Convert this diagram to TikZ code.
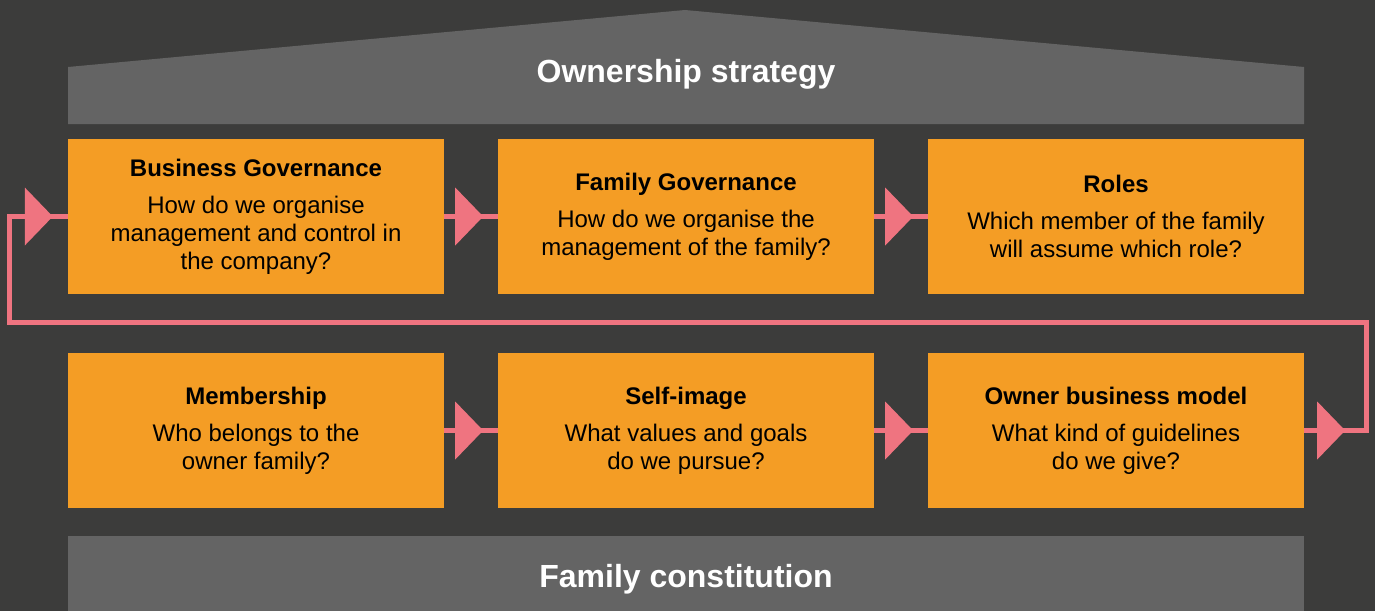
\documentclass[tikz,border=0pt]{standalone}
\usepackage{fontspec}
\setmainfont{Liberation Sans}
\usetikzlibrary{arrows.meta,decorations.markings}
\definecolor{darkbg}{HTML}{3C3C3B}
\definecolor{roofgray}{HTML}{646464}
\definecolor{boxorange}{HTML}{F49D25}
\definecolor{flowpink}{HTML}{EF7480}
\newcommand{\flowtip}{\arrow{Triangle[length=28pt,width=58pt,line width=0pt]}}

\begin{document}
\begin{tikzpicture}[x=1pt,y=-1pt,
    box/.style={fill=boxorange,minimum width=376pt,minimum height=155pt,inner sep=0pt,
      align=center,font=\fontsize{24}{28}\selectfont},
    band/.style={text=white,anchor=base,font=\fontsize{32}{36}\selectfont\bfseries},
    flow/.style={draw=flowpink,line width=5pt,postaction={decorate}}]
  \fill[darkbg] (0,0) rectangle (1375,611);
  % roof and base
  \fill[roofgray] (68,67) -- (685,10) -- (1304,67) -- (1304,124) -- (68,124) -- cycle;
  \fill[roofgray] (68,536) rectangle (1304,611);
  \node[band] (own) at (686,82) {Ownership strategy};
  \node[band] (cons) at (686,587) {Family constitution};
  % the six questions
  \foreach \i/\x/\y/\head/\ask in {
      1/256/216.5/Business Governance/{How do we organise\\management and control in\\the company?},
      2/686/216.5/Family Governance/{How do we organise the\\management of the family?},
      3/1116/216.5/Roles/{Which member of the family\\will assume which role?},
      4/256/430.5/Membership/{Who belongs to the\\owner family?},
      5/686/430.5/Self-image/{What values and goals\\do we pursue?},
      6/1116/430.5/Owner business model/{What kind of guidelines\\do we give?}}{
    \node[box] (b\i) at (\x,\y) {\textbf{\head}\\[9pt]\ask};
  }
  \foreach \a/\b in {1/2,2/3,4/5,5/6}{
    \draw[flow,decoration={markings,mark=at position 39pt with {\flowtip}}] (b\a) -- (b\b);
  }
  \draw[flow,decoration={markings,mark=at position 41pt with {\flowtip},
      mark=at position -15pt with {\flowtip}}]
    (b6.east) -- ++(62,0) -- ++(0,-108.5) -| ([xshift=-58pt]b1.west) -- (b1.west);
\end{tikzpicture}
\end{document}
